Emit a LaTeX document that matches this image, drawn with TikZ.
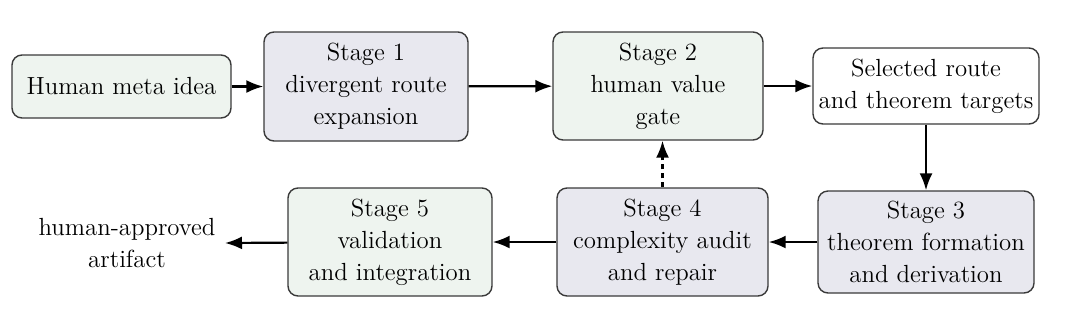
\documentclass[tikz,border=0pt]{standalone}
\usetikzlibrary{arrows.meta}
\definecolor{gfill}{HTML}{EEF4EF}
\definecolor{pfill}{HTML}{E8E8EF}
\definecolor{bord}{HTML}{3A3A3A}
\begin{document}
\begin{tikzpicture}[x=0.5pt,y=-0.5pt,
  box/.style={draw=bord,line width=0.7pt,rounded corners=5pt,align=center,inner sep=2pt,
    font=\rmfamily\fontsize{12.4}{16}\selectfont},
  gbox/.style={box,fill=gfill},
  pbox/.style={box,fill=pfill},
  wbox/.style={box,fill=white},
  arr/.style={line width=1.1pt,-{Latex[length=8.5pt,width=6.5pt]}},
  darr/.style={arr,dash pattern=on 2.5pt off 2pt}]
\useasboundingbox (0,0) rectangle (1080,317);
\node[gbox,minimum width=109.5pt,minimum height=31.5pt] (h) at (121.5,86.5) {Human meta idea};
\node[pbox,minimum width=102pt,minimum height=54.5pt] (s1) at (366,86.5) {Stage 1\\divergent route\\expansion};
\node[gbox,minimum width=105pt,minimum height=54pt] (s2) at (658,86) {Stage 2\\human value\\gate};
\node[wbox,minimum width=113pt,minimum height=38pt] (sel) at (926,86) {Selected route\\and theorem targets};
\node[pbox,minimum width=108pt,minimum height=51pt] (s3) at (926,242) {Stage 3\\theorem formation\\and derivation};
\node[pbox,minimum width=105.5pt,minimum height=54pt] (s4) at (662.5,242) {Stage 4\\complexity audit\\and repair};
\node[gbox,minimum width=102pt,minimum height=54pt] (s5) at (390,242) {Stage 5\\validation\\and integration};
\node[align=center,font=\rmfamily\fontsize{12.4}{16}\selectfont] (out) at (127,243) {human-approved\\artifact};
\coordinate (outend) at (225,243);
\draw[arr] (h) -- (s1);
\draw[arr] (s1) -- (s2);
\draw[arr] (s2) -- (sel);
\draw[arr] (sel) -- (s3);
\draw[arr] (s3) -- (s4);
\draw[arr] (s4) -- (s5);
\draw[arr] (s5) -- (outend);
\draw[darr] (s4.north) -- (s4.north |- s2.south);
\end{tikzpicture}
\end{document}
